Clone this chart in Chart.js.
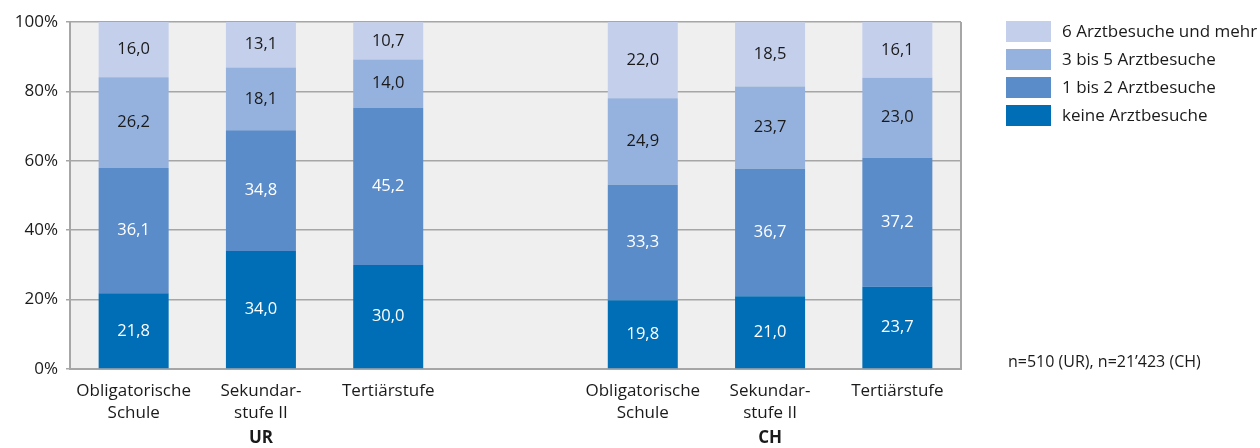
<!DOCTYPE html>
<html>
<head>
<meta charset="utf-8">
<script src="https://cdn.jsdelivr.net/npm/chart.js@4/dist/chart.umd.min.js"></script>
<style>
  html, body { margin: 0; padding: 0; background: #fff; }
  #wrap { width: 1260px; height: 448px; position: relative; }
</style>
</head>
<body>
<div id="wrap"><canvas id="arztChart"></canvas></div>
<script>
// Arztbesuche nach Bildungsstand, UR vs. CH (Anteile in %)
const categories = [
  ['Obligatorische', 'Schule'], ['Sekundar-', 'stufe II'], 'Tertiärstufe',
  '',
  ['Obligatorische', 'Schule'], ['Sekundar-', 'stufe II'], 'Tertiärstufe'
];
const groupLabels = ['UR', 'CH'];
const keine = [21.8, 34.0, 30.0, null, 19.8, 21.0, 23.7];
const einsBisZwei = [36.1, 34.8, 45.2, null, 33.3, 36.7, 37.2];
const dreiBisFuenf = [26.2, 18.1, 14.0, null, 24.9, 23.7, 23.0];
const sechsUndMehr = [16.0, 13.1, 10.7, null, 22.0, 18.5, 16.1];
const yTicks = [0, 20, 40, 60, 80, 100];
const noteText = 'n=510 (UR), n=21\u2019423 (CH)';

const FONT = '"Open Sans", sans-serif';

// plot background, right border, value labels, group labels, legend, note
const extras = {
  id: 'extras',
  beforeDraw(chart) {
    const { ctx, chartArea: a } = chart;
    ctx.save();
    ctx.fillStyle = '#efefef';
    ctx.fillRect(a.left, a.top, a.right - a.left, a.bottom - a.top);
    ctx.restore();
  },
  afterDatasetsDraw(chart) {
    const { ctx } = chart;
    ctx.save();
    ctx.font = '16.5px ' + FONT;
    ctx.textAlign = 'center';
    ctx.textBaseline = 'middle';
    chart.data.datasets.forEach((ds, i) => {
      const meta = chart.getDatasetMeta(i);
      meta.data.forEach((bar, j) => {
        const v = ds.data[j];
        if (v == null) return;
        ctx.fillStyle = ds.labelColor;
        ctx.fillText(v.toFixed(1).replace('.', ','), bar.x, (bar.y + bar.base) / 2);
      });
    });
    ctx.restore();
  },
  afterDraw(chart) {
    const { ctx, chartArea: a, scales } = chart;
    ctx.save();
    // right frame line
    ctx.strokeStyle = '#a6a6a6';
    ctx.lineWidth = 2;
    ctx.beginPath();
    ctx.moveTo(a.right, a.top);
    ctx.lineTo(a.right, a.bottom);
    ctx.stroke();

    // group labels under the axis
    ctx.fillStyle = '#1a1a1a';
    ctx.font = 'bold 17px ' + FONT;
    ctx.textAlign = 'center';
    ctx.textBaseline = 'middle';
    ctx.fillText(groupLabels[0], scales.x.getPixelForValue(1), 438);
    ctx.fillText(groupLabels[1], scales.x.getPixelForValue(5), 438);

    // legend, top series first
    ctx.font = '17px ' + FONT;
    ctx.textAlign = 'left';
    const order = chart.data.datasets.slice().reverse();
    order.forEach((ds, k) => {
      const y = 21 + k * 28;
      ctx.fillStyle = ds.backgroundColor;
      ctx.fillRect(1006, y, 45, 21);
      ctx.fillStyle = '#1a1a1a';
      ctx.fillText(ds.label, 1062, y + 11);
    });

    ctx.font = '16px ' + FONT;
    ctx.fillText(noteText, 1008, 362);
    ctx.restore();
  }
};

const ctx = document.getElementById('arztChart').getContext('2d');
const arztChart = new Chart(ctx, {
  type: 'bar',
  data: {
    labels: categories,
    datasets: [{
      label: 'keine Arztbesuche',
      data: keine,
      backgroundColor: '#006eb6',
      labelColor: '#ffffff'
    }, {
      label: '1 bis 2 Arztbesuche',
      data: einsBisZwei,
      backgroundColor: '#5b8cca',
      labelColor: '#ffffff'
    }, {
      label: '3 bis 5 Arztbesuche',
      data: dreiBisFuenf,
      backgroundColor: '#95b1dd',
      labelColor: '#1a1a1a'
    }, {
      label: '6 Arztbesuche und mehr',
      data: sechsUndMehr,
      backgroundColor: '#c4cfec',
      labelColor: '#1a1a1a'
    }]
  },
  options: {
    responsive: true,
    maintainAspectRatio: false,
    animation: false,
    layout: { padding: { top: 22, right: 299, left: 0, bottom: 0 } },
    datasets: { bar: { categoryPercentage: 1, barPercentage: 0.55, borderWidth: 0 } },
    plugins: { legend: { display: false }, tooltip: { enabled: false } },
    scales: {
      x: {
        stacked: true,
        grid: { display: false, drawTicks: false },
        border: { color: '#a6a6a6', width: 2 },
        ticks: { color: '#1a1a1a', font: { family: FONT, size: 17, lineHeight: 1.3 }, padding: 11, maxRotation: 0, autoSkip: false },
        afterFit(scale) { scale.height = 79; }
      },
      y: {
        stacked: true,
        min: 0,
        max: 100,
        afterBuildTicks(scale) { scale.ticks = yTicks.map(v => ({ value: v })); },
        grid: { color: '#a6a6a6', lineWidth: 1.5, tickLength: 4 },
        border: { color: '#a6a6a6', width: 2 },
        ticks: { color: '#1a1a1a', font: { family: FONT, size: 17 }, padding: 8, callback: v => v + '%' },
        afterFit(scale) { scale.width = 70; }
      }
    }
  },
  plugins: [extras]
});
</script>
</body>
</html>
